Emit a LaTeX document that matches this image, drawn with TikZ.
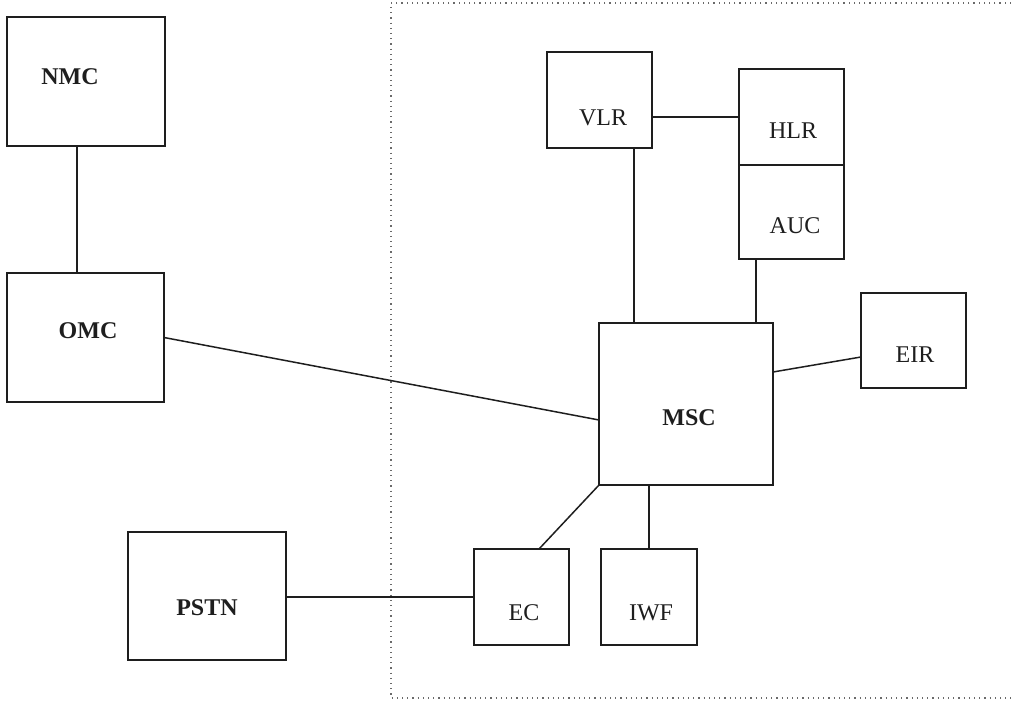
\documentclass[tikz,border=0pt]{standalone}
\usepackage{fontspec}
\setmainfont{Liberation Serif}
\definecolor{gsmInk}{HTML}{1E1E1E}
\definecolor{gsmFrame}{HTML}{6A6A6A}
\tikzset{
  gsm box/.style 2 args={draw=gsmInk, line width=0.75pt, inner sep=0pt, outer sep=0pt, minimum width=#1, minimum height=#2},
  gsm link/.style={draw=gsmInk, line width=0.75pt},
  gsm frame/.style={draw=gsmFrame, dotted, line width=0.6pt},
  gsm label/.style={font=\fontsize{12}{14}\selectfont, text=gsmInk, inner sep=0pt},
  gsm bold label/.style={gsm label, font=\fontsize{12}{14}\selectfont\bfseries},
}
\begin{document}
\begin{tikzpicture}[x=0.5pt,y=-0.5pt]
  \useasboundingbox (0,0) rectangle (1011,711);
  \draw[gsm frame] (1011,3)--(391,3)--(391,698)--(1011,698);
  % boxes
  \node[gsm box={79pt}{64.5pt}] (nmc) at (86,81.5) {};
  \node[gsm box={78.5pt}{64.5pt}] (omc) at (85.5,337.5) {};
  \node[gsm box={52.5pt}{48pt}] (vlr) at (599.5,100) {};
  \node[gsm box={52.5pt}{48pt}] (hlr) at (791.5,117) {};
  \node[gsm box={52.5pt}{47pt}] (auc) at (791.5,212) {};
  \node[gsm box={87pt}{81pt}] (msc) at (686,404) {};
  \node[gsm box={52.5pt}{47.5pt}] (eir) at (913.5,340.5) {};
  \node[gsm box={47.5pt}{48pt}] (ec) at (521.5,597) {};
  \node[gsm box={48pt}{48pt}] (iwf) at (649,597) {};
  \node[gsm box={79pt}{64pt}] (pstn) at (207,596) {};
  % labels
  \node[gsm bold label] (nmc-t) at (70,77) {NMC};
  \node[gsm bold label] (omc-t) at (88,331) {OMC};
  \node[gsm label] (vlr-t) at (603,118) {VLR};
  \node[gsm label] (hlr-t) at (793,131) {HLR};
  \node[gsm label] (auc-t) at (795,226) {AUC};
  \node[gsm bold label] (msc-t) at (689,418) {MSC};
  \node[gsm label] (eir-t) at (915,355) {EIR};
  \node[gsm label] (ec-t) at (524,613) {EC};
  \node[gsm label] (iwf-t) at (651,613) {IWF};
  \node[gsm bold label] (pstn-t) at (207,608) {PSTN};
  % links
  \draw[gsm link] ([xshift=-4.5pt]nmc.south) -- ([xshift=-4.5pt]nmc.south |- omc.north);
  \draw[gsm link] (omc.east) -- ([yshift=-8pt]msc.west);
  \draw[gsm link] (vlr.east |- hlr.west) -- (hlr.west);
  \draw[gsm link] ([xshift=17.25pt]vlr.south) -- ([xshift=17.25pt]vlr.south |- msc.north);
  \draw[gsm link] ([xshift=-17.75pt]auc.south) -- ([xshift=-17.75pt]auc.south |- msc.north);
  \draw[gsm link] ([yshift=16pt]msc.east) -- ([yshift=-8.25pt]eir.west);
  \draw[gsm link] (msc.south west) -- ([xshift=8.75pt]ec.north);
  \draw[gsm link] (iwf.north |- msc.south) -- (iwf.north);
  \draw[gsm link] (pstn.east |- ec.west) -- (ec.west);
\end{tikzpicture}
\end{document}
